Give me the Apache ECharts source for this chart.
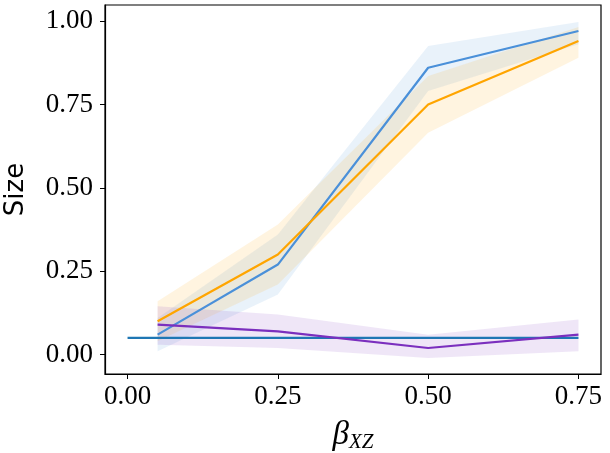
<!DOCTYPE html>
<html>
<head>
    <meta charset="utf-8">
    <title>Size vs beta</title>
    <script src="https://cdn.jsdelivr.net/npm/echarts@6/dist/echarts.min.js"></script>
    <style>
        html, body { margin: 0; padding: 0; background: #fff; }
        #chart { width: 610px; height: 453px; }
    </style>
</head>
<body>
<div id="chart"></div>
<script>
    // x positions
    var betas = [0.05, 0.25, 0.50, 0.75];

    // blue series
    var blueMean = [0.06, 0.27, 0.86, 0.97];
    var blueLow  = [0.01, 0.18, 0.79, 0.93];
    var blueHigh = [0.11, 0.36, 0.925, 0.997];

    // orange series
    var orangeMean = [0.10, 0.30, 0.75, 0.94];
    var orangeLow  = [0.04, 0.21, 0.665, 0.89];
    var orangeHigh = [0.16, 0.39, 0.835, 0.982];

    // purple series
    var purpleMean = [0.09, 0.07, 0.02, 0.06];
    var purpleLow  = [0.03, 0.02, -0.01, 0.01];
    var purpleHigh = [0.145, 0.12, 0.06, 0.105];

    // reference level
    var refX = [0.00, 0.75];
    var refY = [0.05, 0.05];

    var xTicks = [0.00, 0.25, 0.50, 0.75];
    var yTicks = [0.00, 0.25, 0.50, 0.75, 1.00];

    function pairs(xs, ys) {
        return xs.map(function (x, i) { return [x, ys[i]]; });
    }

    function band(lo, hi, color) {
        return {
            type: 'custom',
            silent: true,
            z: 1,
            data: [0],
            renderItem: function (params, api) {
                var pts = [];
                for (var i = 0; i < betas.length; i++) pts.push(api.coord([betas[i], hi[i]]));
                for (var j = betas.length - 1; j >= 0; j--) pts.push(api.coord([betas[j], lo[j]]));
                return {
                    type: 'polygon',
                    shape: { points: pts },
                    style: { fill: color, opacity: 0.12 }
                };
            }
        };
    }

    function line(xs, ys, color, z) {
        return {
            type: 'line',
            data: pairs(xs, ys),
            symbol: 'none',
            z: z,
            lineStyle: { color: color, width: 2.2 },
            itemStyle: { color: color }
        };
    }

    var tickFont = { fontFamily: 'Liberation Serif', fontSize: 27, color: '#000' };

    var chart = echarts.init(document.getElementById('chart'));
    chart.setOption({
        animation: false,
        grid: {
            left: 105, right: 9, top: 5, bottom: 79,
            outerBoundsMode: 'none',
            containLabel: false,
            show: true, borderColor: '#000', borderWidth: 1.2
        },
        xAxis: {
            type: 'value',
            min: -0.0375,
            max: 0.7875,
            splitLine: { show: false },
            axisLine: { show: true, onZero: false, lineStyle: { color: '#000', width: 1.2 } },
            axisTick: { show: true, length: 5, customValues: xTicks, lineStyle: { color: '#000' } },
            axisLabel: Object.assign({
                customValues: xTicks,
                margin: 9,
                formatter: function (v) { return v.toFixed(2); }
            }, tickFont),
            name: '{b|β}{s|XZ}',
            nameLocation: 'middle',
            nameGap: 44,
            nameTextStyle: {
                rich: {
                    b: { fontFamily: 'Liberation Serif', fontStyle: 'italic', fontSize: 33, color: '#000' },
                    s: { fontFamily: 'Liberation Serif', fontStyle: 'italic', fontSize: 21, color: '#000', padding: [14, 0, 0, 0] }
                }
            }
        },
        yAxis: {
            type: 'value',
            min: -0.058,
            max: 1.048,
            splitLine: { show: false },
            axisLine: { show: true, onZero: false, lineStyle: { color: '#000', width: 1.2 } },
            axisTick: { show: true, length: 5, customValues: yTicks, lineStyle: { color: '#000' } },
            axisLabel: Object.assign({
                customValues: yTicks,
                margin: 12,
                formatter: function (v) { return v.toFixed(2); }
            }, tickFont),
            name: 'Size',
            nameLocation: 'middle',
            nameRotate: 90,
            nameGap: 76,
            nameTextStyle: { fontFamily: 'DejaVu Sans', fontSize: 26, color: '#000' }
        },
        series: [
            band(blueLow, blueHigh, '#4a90d9'),
            band(orangeLow, orangeHigh, '#ffa500'),
            band(purpleLow, purpleHigh, '#7b2fbe'),
            line(refX, refY, '#1f77b4', 3),
            line(betas, blueMean, '#4a90d9', 4),
            line(betas, orangeMean, '#ffa500', 5),
            line(betas, purpleMean, '#7b2fbe', 6)
        ]
    });
</script>
</body>
</html>
